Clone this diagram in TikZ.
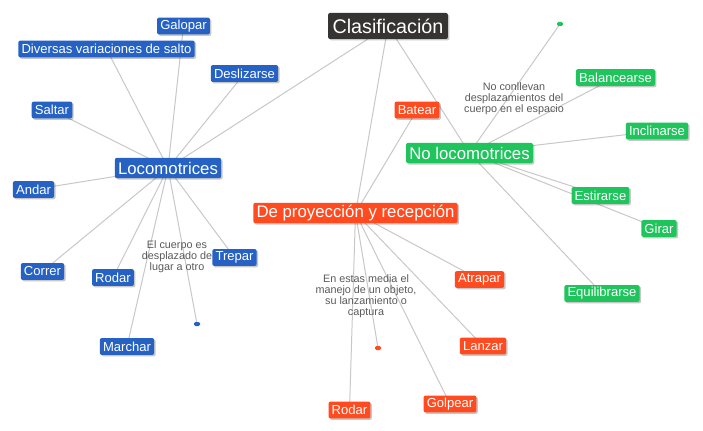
\documentclass[tikz,border=0pt]{standalone}
\usepackage{fontspec}
\setmainfont{Liberation Sans}
\usetikzlibrary{shadows,backgrounds}
\definecolor{cblue}{HTML}{2562C3}
\definecolor{cgreen}{HTML}{1FC45C}
\definecolor{corange}{HTML}{FF4B1F}
\definecolor{cdark}{HTML}{363433}
\definecolor{cedge}{HTML}{C8C8C8}
\definecolor{cnote}{HTML}{5A5A5A}
\tikzset{
  box/.style={rectangle, rounded corners=1.5pt, text=white, inner xsep=2.4pt, inner ysep=0pt,
    drop shadow={shadow xshift=1.1pt, shadow yshift=-1.1pt, opacity=0.22, fill=black}},
  leaf/.style={box, font=\fontsize{9.8}{11}\selectfont, minimum height=12.6pt},
  cat/.style={box, font=\fontsize{12.6}{14}\selectfont, minimum height=15.2pt},
  root/.style={box, fill=cdark, font=\fontsize{14.8}{17}\selectfont, minimum height=19.5pt, inner xsep=3.4pt},
  bl/.style={fill=cblue},
  gr/.style={fill=cgreen},
  og/.style={fill=corange},
  note/.style={text=cnote, align=center, font=\fontsize{8.1}{8.2}\selectfont, inner sep=0pt},
  dotm/.style={rectangle, rounded corners=1pt, minimum width=4.5pt, minimum height=3pt, inner sep=0pt},
  conn/.style={draw=cedge, line width=0.75pt},
}
\begin{document}
\begin{tikzpicture}[x=0.75pt,y=-0.75pt]
\useasboundingbox (0,0) rectangle (703,431);
% root and categories
\node[root] (root) at (388,26) {Clasificación};
\node[cat,bl] (loc) at (168,168) {Locomotrices};
\node[cat,gr] (noloc) at (469.5,153) {No locomotrices};
\node[cat,og] (proy) at (355.5,213) {De proyección y recepción};
% notes
\node[note] (n1) at (177,257) {El cuerpo es\\desplazado de\\lugar a otro};
\node[note] (n2) at (514,99) {No conllevan\\desplazamientos del\\cuerpo en el espacio};
\node[note] (n3) at (366,296.5) {En estas media el\\manejo de un objeto,\\su lanzamiento o\\captura};
% blue leaves
\node[leaf,bl] (galopar) at (183.5,26) {Galopar};
\node[leaf,bl] (diversas) at (106.5,49) {Diversas variaciones de salto};
\node[leaf,bl] (desliz) at (244.5,73.5) {Deslizarse};
\node[leaf,bl] (saltar) at (52,110) {Saltar};
\node[leaf,bl] (andar) at (33.5,189.5) {Andar};
\node[leaf,bl] (correr) at (42.5,271.5) {Correr};
\node[leaf,bl] (rodarb) at (113,277.5) {Rodar};
\node[leaf,bl] (trepar) at (234.5,257.5) {Trepar};
\node[leaf,bl] (marchar) at (127,346.5) {Marchar};
\node[dotm,bl] (dotb) at (197,324) {};
% green leaves
\node[leaf,gr] (balan) at (615.5,77.5) {Balancearse};
\node[leaf,gr] (incl) at (657,131) {Inclinarse};
\node[leaf,gr] (estir) at (600.5,195.5) {Estirarse};
\node[leaf,gr] (girar) at (659,228.5) {Girar};
\node[leaf,gr] (equil) at (602,293.5) {Equilibrarse};
\node[dotm,gr] (dotg) at (560,24) {};
% orange leaves
\node[leaf,og] (batear) at (417,110) {Batear};
\node[leaf,og] (atrapar) at (479.5,279.5) {Atrapar};
\node[leaf,og] (lanzar) at (483,346) {Lanzar};
\node[leaf,og] (golpear) at (450,404) {Golpear};
\node[leaf,og] (rodaro) at (349.5,410) {Rodar};
\node[dotm,og] (doto) at (378,348) {};
% connectors
\begin{pgfonlayer}{background}
\fill[white] (0,0) rectangle (703,431);
\foreach \a/\b in {root/loc, root/noloc, root/proy,
  loc/galopar, loc/diversas, loc/desliz, loc/saltar, loc/andar, loc/correr, loc/rodarb, loc/trepar, loc/marchar, loc/dotb,
  noloc/dotg, noloc/balan, noloc/incl, noloc/estir, noloc/girar, noloc/equil,
  proy/batear, proy/atrapar, proy/lanzar, proy/golpear, proy/rodaro, proy/doto}
  \draw[conn] (\a.center) -- (\b.center);
\end{pgfonlayer}
\end{tikzpicture}
\end{document}
